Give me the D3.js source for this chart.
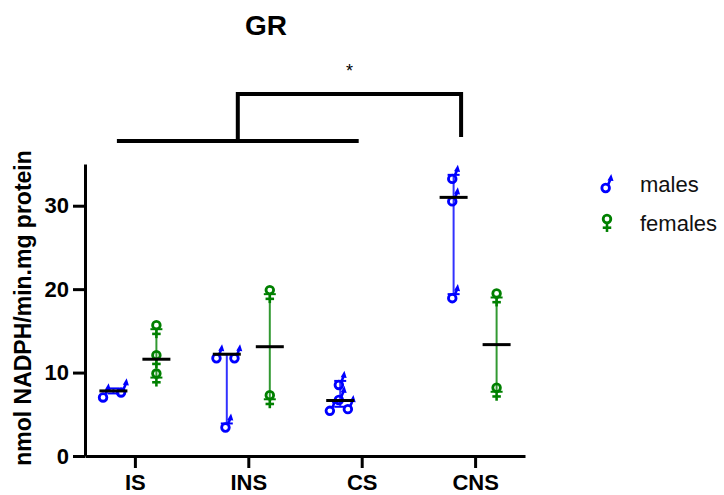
<!DOCTYPE html>
<html>
<head>
<meta charset="utf-8">
<script src="https://cdn.jsdelivr.net/npm/d3@7"></script>
<style>
  body { margin: 0; background: #fff; }
  svg { font-family: "Liberation Sans", Arial, sans-serif; }
</style>
</head>
<body>
<div id="chart"></div>
<script>
// groups on the x axis and the individual values per sex
const groups = ["IS", "INS", "CS", "CNS"];
const malesValues = [[7.5, 8.1], [12.2, 12.2, 3.9], [9.0, 7.2, 6.1, 5.9], [33.7, 31.0, 19.4]];
const femalesValues = [[15.2, 11.6, 9.4], [19.4, 6.8], [], [19.0, 7.7]];
const yTicks = [0, 10, 20, 30];

const maleColor = "#0000ff";
const femaleColor = "#008000";

const svg = d3.select("#chart").append("svg")
    .attr("width", 724)
    .attr("height", 495);

const x = d3.scalePoint()
    .domain(groups)
    .range([85, 525])
    .padding(0.44);

const y = d3.scaleLinear()
    .domain([0, 35])
    .range([456, 164]);

const sexOffset = 21.5;

// x axis
const xAxis = svg.append("g")
    .attr("transform", `translate(0,${y(0)})`)
    .call(d3.axisBottom(x).tickSize(12).tickSizeOuter(0).tickPadding(6));

// y axis
const yAxis = svg.append("g")
    .attr("transform", `translate(${x.range()[0]},0)`)
    .call(d3.axisLeft(y).tickValues(yTicks).tickSize(12).tickSizeOuter(0).tickPadding(4));

[xAxis, yAxis].forEach(a => {
    a.selectAll("path, line").attr("stroke", "#000").attr("stroke-width", 3);
    a.selectAll("text")
        .attr("fill", "#000")
        .style("font-size", "22px")
        .style("font-weight", "bold");
});

// y axis label
svg.append("text")
    .attr("transform", "rotate(-90)")
    .attr("x", -308)
    .attr("y", 31)
    .attr("text-anchor", "middle")
    .style("font-size", "23px")
    .style("font-weight", "bold")
    .text("nmol NADPH/min.mg protein");

// title
svg.append("text")
    .attr("x", 266)
    .attr("y", 35)
    .attr("text-anchor", "middle")
    .style("font-size", "28px")
    .style("font-weight", "bold")
    .text("GR");

// significance bracket
const bLeft = x("IS") - 18, bRight = x("CS") - 3;
const bMid = (bLeft + bRight) / 2;
const bEnd = x("CNS") - 14;
svg.append("path")
    .attr("d", `M${bLeft},141 H${bRight}`)
    .attr("stroke", "#000").attr("stroke-width", 4).attr("fill", "none");
svg.append("path")
    .attr("d", `M${bMid},141 V94 H${bEnd} V137`)
    .attr("stroke", "#000").attr("stroke-width", 4).attr("fill", "none");
svg.append("text")
    .attr("x", (bMid + bEnd) / 2)
    .attr("y", 77)
    .attr("text-anchor", "middle")
    .style("font-size", "18px")
    .text("*");

// symbols
function drawMale(g, color) {
    g.append("circle").attr("cx", -1.2).attr("cy", 3.6).attr("r", 3.4)
        .attr("fill", "none").attr("stroke", color).attr("stroke-width", 2.5);
    g.append("line").attr("x1", 0.9).attr("y1", 1.0).attr("x2", 3.0).attr("y2", -4)
        .attr("stroke", color).attr("stroke-width", 2.3);
    g.append("path").attr("d", "M3.8,-9 L0.4,-3.2 L5.8,-2.6 Z").attr("fill", color);
}

function drawFemale(g, color) {
    g.append("circle").attr("cx", 0).attr("cy", -3.6).attr("r", 3.4)
        .attr("fill", "none").attr("stroke", color).attr("stroke-width", 2.5);
    g.append("line").attr("x1", 0).attr("y1", -0.2).attr("x2", 0).attr("y2", 8)
        .attr("stroke", color).attr("stroke-width", 2.3);
    g.append("line").attr("x1", -3.8).attr("y1", 4.2).attr("x2", 3.8).attr("y2", 4.2)
        .attr("stroke", color).attr("stroke-width", 2.3);
}

const symbolScale = 1.12;

// spread points that sit on top of each other
function jitter(values) {
    const sorted = values.map((v, i) => ({ v, i })).sort((a, b) => a.v - b.v);
    const out = new Array(values.length).fill(0);
    let cluster = [];
    const flush = () => {
        cluster.forEach((p, k) => { out[p.i] = (k - (cluster.length - 1) / 2) * 18; });
        cluster = [];
    };
    sorted.forEach(p => {
        if (cluster.length && Math.abs(y(p.v) - y(cluster[cluster.length - 1].v)) > 7) flush();
        cluster.push(p);
    });
    flush();
    return out;
}

function drawGroup(values, cx, color, symbol) {
    if (!values.length) return;
    const g = svg.append("g");
    const lo = d3.min(values), hi = d3.max(values);
    // range bar
    g.append("line")
        .attr("x1", cx).attr("x2", cx)
        .attr("y1", y(lo)).attr("y2", y(hi))
        .attr("stroke", color).attr("stroke-width", 2).attr("opacity", 0.8);
    [lo, hi].forEach(v => {
        g.append("line")
            .attr("x1", cx - 6).attr("x2", cx + 6)
            .attr("y1", y(v)).attr("y2", y(v))
            .attr("stroke", color).attr("stroke-width", 2);
    });
    const offs = jitter(values);
    values.forEach((v, i) => {
        const s = g.append("g")
            .attr("transform", `translate(${cx + offs[i]},${y(v)}) scale(${symbolScale})`);
        symbol(s, color);
    });
    // median line
    const med = d3.median(values);
    g.append("line")
        .attr("x1", cx - 14).attr("x2", cx + 14)
        .attr("y1", y(med)).attr("y2", y(med))
        .attr("stroke", "#000").attr("stroke-width", 3);
}

groups.forEach((grp, i) => {
    drawGroup(malesValues[i], x(grp) - sexOffset, maleColor, drawMale);
    drawGroup(femalesValues[i], x(grp) + sexOffset, femaleColor, drawFemale);
});

// legend
const legend = [
    { label: "males", color: maleColor, symbol: drawMale, y: 184 },
    { label: "females", color: femaleColor, symbol: drawFemale, y: 223 }
];
legend.forEach(d => {
    const s = svg.append("g").attr("transform", `translate(607,${d.y}) scale(${symbolScale})`);
    d.symbol(s, d.color);
    svg.append("text")
        .attr("x", 640)
        .attr("y", d.y)
        .attr("dy", "0.35em")
        .attr("fill", "#111")
        .style("font-size", "22px")
        .text(d.label);
});
</script>
</body>
</html>
